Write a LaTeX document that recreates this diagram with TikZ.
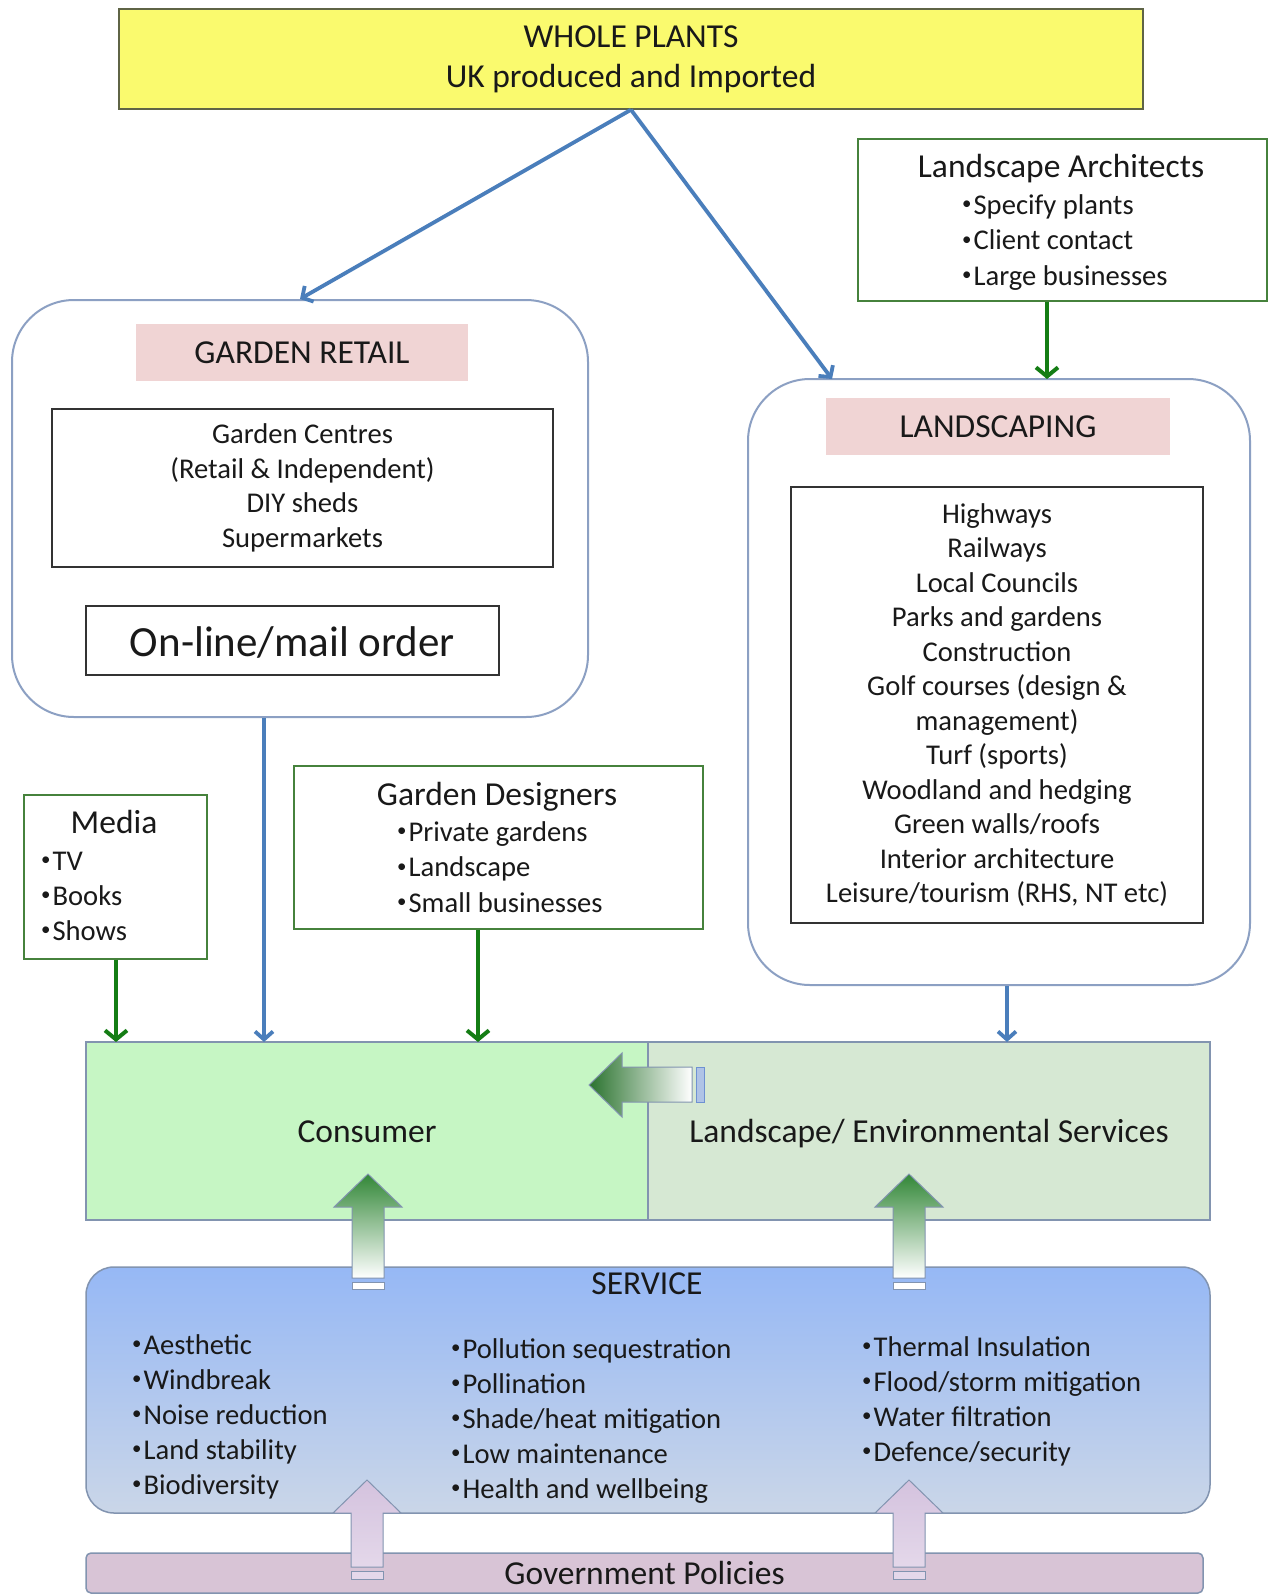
\documentclass[tikz,border=0pt]{standalone}
\usepackage{fontspec}
\usepackage{graphicx}
\setmainfont{Carlito}
\usetikzlibrary{arrows.meta,calc}
\newcommand\smallbul{\raisebox{0.3ex}{\scalebox{0.66}{•}}\kern2pt}
\definecolor{txt}{RGB}{25,25,25}
\definecolor{wpyellow}{RGB}{250,250,110}
\definecolor{wpborder}{RGB}{95,100,70}
\definecolor{linkblue}{RGB}{74,126,187}
\definecolor{linkgreen}{RGB}{20,125,20}
\definecolor{boxgreen}{RGB}{70,130,60}
\definecolor{roundborder}{RGB}{140,160,195}
\definecolor{pinklabel}{RGB}{240,212,212}
\definecolor{consgreen}{RGB}{198,246,196}
\definecolor{lsegreen}{RGB}{214,232,211}
\definecolor{svctop}{RGB}{150,184,245}
\definecolor{svcbot}{RGB}{202,214,232}
\definecolor{govfill}{RGB}{216,196,214}
\definecolor{edgegray}{RGB}{130,148,176}
\definecolor{arrgreen}{RGB}{50,135,55}
\definecolor{lavtop}{RGB}{212,194,222}
\definecolor{lavbot}{RGB}{228,216,234}
\definecolor{stripeblue}{RGB}{110,145,210}
\begin{document}
\begin{tikzpicture}[x=1pt,y=-1pt,
  every node/.style={inner sep=0pt,text=txt},
  body/.style={font=\fontsize{28.6}{34.5}\selectfont},
  head/.style={font=\fontsize{33.5}{40}\selectfont},
  onehead/.style={head,text height=22pt,text depth=0pt},
  plainbox/.style={draw=black!80,line width=1.3pt},
  greenbox/.style={draw=boxgreen,line width=1.3pt,fill=white},
  roundbox/.style={draw=roundborder,line width=2pt,rounded corners=62pt,fill=white},
  pinklab/.style={fill=pinklabel,onehead},
  bluelink/.style={draw=linkblue,line width=3.8pt,-{Straight Barb[length=8pt,width=18pt]}},
  greenlink/.style={draw=linkgreen,line width=4pt,-{Straight Barb[length=9pt,width=22pt]}},
  bulletitem/.style={body,anchor=base west},
  titleitem/.style={head,anchor=base},
]
\useasboundingbox (0,0) rectangle (1275,1595);
\fill[white] (0,0) rectangle (1275,1595);

% top box
\node[draw=wpborder,line width=1.5pt,fill=wpyellow,minimum width=1024pt,minimum height=100pt,align=center,head] (wp) at (631,59) {WHOLE PLANTS\\UK produced and Imported};

% landscape architects
\node[greenbox,minimum width=409pt,minimum height=162pt] (la) at (1062.5,220) {};
\node[titleitem] (latitle) at (1061,177) {Landscape Architects};
\foreach \t [count=\i from 0] in {Specify plants,Client contact,Large businesses}
  \node[bulletitem] (la\i) at (962,214+35.5*\i) {\smallbul\t};

% garden retail
\node[roundbox,minimum width=576pt,minimum height=417pt] (gr) at (300,508.5) {};
\node[pinklab,minimum width=332pt,minimum height=57pt] (grlab) at (302,352.5) {GARDEN RETAIL};
\node[plainbox,body,align=center,minimum width=501pt,minimum height=158pt] (grin) at (302.5,488) {Garden Centres\\(Retail \& Independent)\\DIY sheds\\Supermarkets};
\node[plainbox,font=\fontsize{43}{50}\selectfont,text height=31pt,text depth=0pt,minimum width=413pt,minimum height=69pt] (online) at (292.5,640.5) {On-line/mail order};

% landscaping
\node[roundbox,minimum width=502pt,minimum height=606pt] (ls) at (999,682) {};
\node[pinklab,minimum width=344pt,minimum height=57pt] (lslab) at (998,426.5) {LANDSCAPING};
\node[plainbox,body,align=center,minimum width=412pt,minimum height=436pt] (lsin) at (997,705) {Highways\\Railways\\Local Councils\\Parks and gardens\\Construction\\Golf courses (design \&\\management)\\Turf (sports)\\Woodland and hedging\\Green walls/roofs\\Interior architecture\\Leisure/tourism (RHS, NT etc)};

% media
\node[greenbox,minimum width=183pt,minimum height=164pt] (media) at (115.5,877) {};
\node[titleitem] (mediatitle) at (114,833) {Media};
\foreach \t [count=\i from 0] in {TV,Books,Shows}
  \node[bulletitem] (media\i) at (41,870+35*\i) {\smallbul\t};

% garden designers
\node[greenbox,minimum width=409pt,minimum height=163pt] (gd) at (498.5,847.5) {};
\node[titleitem] (gdtitle) at (497,805) {Garden Designers};
\foreach \t [count=\i from 0] in {Private gardens,Landscape,Small businesses}
  \node[bulletitem] (gd\i) at (397,841+35.5*\i) {\smallbul\t};

% consumer / landscape services
\node[draw=edgegray,line width=1.5pt,fill=consgreen,onehead,minimum width=562pt,minimum height=178pt] (cons) at (367,1131) {Consumer};
\node[draw=edgegray,line width=1.5pt,fill=lsegreen,onehead,minimum width=562pt,minimum height=178pt] (lse) at (929,1131) {Landscape/ Environmental Services};

% service
\node[draw=edgegray,line width=1.5pt,rounded corners=28pt,top color=svctop,bottom color=svcbot,minimum width=1124pt,minimum height=246pt] (svc) at (648,1390) {};
\node[titleitem] (svctitle) at (647,1294) {SERVICE};
\foreach \t [count=\i from 0] in {Aesthetic,Windbreak,Noise reduction,Land stability,Biodiversity}
  \node[bulletitem] (sa\i) at (132,1354+35*\i) {\smallbul\t};
\foreach \t [count=\i from 0] in {Pollution sequestration,Pollination,Shade/heat mitigation,Low maintenance,Health and wellbeing}
  \node[bulletitem] (sb\i) at (451,1358+35*\i) {\smallbul\t};
\foreach \t [count=\i from 0] in {Thermal Insulation,Flood/storm mitigation,Water filtration,Defence/security}
  \node[bulletitem] (sc\i) at (862,1356+35*\i) {\smallbul\t};

% government
\node[draw=edgegray,line width=1.5pt,rounded corners=5pt,fill=govfill,onehead,minimum width=1117pt,minimum height=40pt] (gov) at (644.5,1573) {Government Policies};

% connectors
\coordinate (lsentry) at (832,379);
\draw[bluelink] (wp.south) -- (gr.north);
\draw[bluelink] (wp.south) -- (lsentry);
\coordinate (lsentryB) at (1047,379);
\draw[greenlink] (lsentryB |- la.south) -- (lsentryB);
\coordinate (consA) at (116,1042);
\draw[greenlink] (consA |- media.south) -- (consA);
\coordinate (consB) at (264,1042);
\draw[bluelink] (consB |- gr.south) -- (consB);
\coordinate (consC) at (478,1042);
\draw[greenlink] (consC |- gd.south) -- (consC);
\coordinate (lseA) at (1007,1042);
\draw[bluelink] (lseA |- ls.south) -- (lseA);

% block arrow lse -> consumer
\shade[left color=arrgreen!85!black,right color=white,draw=edgegray,line width=1pt]
  (589,1085) -- (622,1053) -- (622,1067) -- (692,1067) -- (692,1102) -- (622,1102) -- (622,1117) -- cycle;
\draw[fill=stripeblue!55!white,draw=stripeblue,line width=1pt] (696,1067) rectangle (704,1102);

% block arrows service -> consumer / lse
\foreach \x in {368,909}{
  \shade[top color=arrgreen,middle color=arrgreen!30!white,bottom color=white,draw=edgegray,line width=1pt]
    (\x,1174) -- (\x+34,1207) -- (\x+16,1207) -- (\x+16,1278) -- (\x-16,1278) -- (\x-16,1207) -- (\x-34,1207) -- cycle;
  \draw[fill=white,draw=edgegray,line width=1pt] (\x-16,1282) rectangle (\x+16,1289);
}
% block arrows government -> service
\foreach \x in {367,909}{
  \shade[top color=lavtop,bottom color=lavbot,draw=edgegray,line width=1pt]
    (\x,1480) -- (\x+34,1513) -- (\x+16,1513) -- (\x+16,1567) -- (\x-16,1567) -- (\x-16,1513) -- (\x-34,1513) -- cycle;
  \draw[fill=lavbot,draw=edgegray,line width=1pt] (\x-16,1571) rectangle (\x+16,1579);
}
\end{tikzpicture}
\end{document}
